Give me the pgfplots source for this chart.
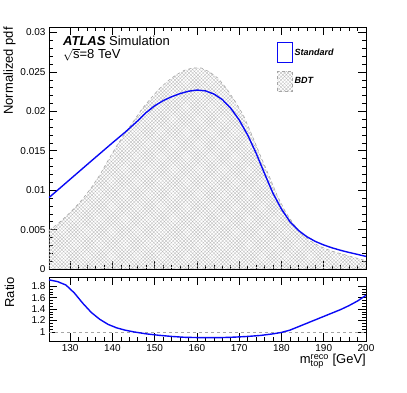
\documentclass[border=0pt]{standalone}
\usepackage{fontspec}
\setmainfont{Liberation Sans}
\usepackage{pgfplots}
\pgfplotsset{compat=1.18}
\usetikzlibrary{patterns.meta}

\definecolor{stdblue}{RGB}{10,10,245}

\pgfplotstableread{
x y
125 0.00906
130 0.01138
135 0.01370
140 0.01600
143 0.01735
146 0.01880
148 0.01985
150 0.02070
152 0.02135
154 0.02185
156 0.02225
158 0.02255
160 0.02270
162 0.02260
164 0.02220
166 0.02150
168 0.02040
170 0.01890
172 0.01700
174 0.01470
176 0.01210
178 0.00960
180 0.00760
182 0.00600
184 0.00490
186 0.00410
188 0.00350
190 0.00305
192 0.00268
194 0.00237
196 0.00210
198 0.00185
200 0.00160
}\standard

\pgfplotstableread{
x y
125 0.00490
127 0.00570
129 0.00665
131 0.00770
133 0.00890
135 0.01030
137 0.01190
139 0.01380
141 0.01560
143 0.01720
145 0.01875
147 0.02030
149 0.02160
151 0.02280
153 0.02380
155 0.02460
157 0.02520
159 0.02550
161 0.02550
163 0.02500
165 0.02420
167 0.02290
169 0.02130
171 0.01950
173 0.01700
175 0.01440
177 0.01190
179 0.00930
181 0.00720
183 0.00560
185 0.00440
187 0.00350
189 0.00290
191 0.00245
193 0.00210
195 0.00180
197 0.00150
199 0.00120
200 0.00105
}\bdt

\pgfplotstableread{
x y
125 1.91
127 1.88
129 1.82
131 1.68
133 1.50
135 1.34
137 1.22
139 1.13
141 1.07
143 1.03
145 1.00
148 0.965
151 0.94
154 0.92
157 0.905
160 0.90
163 0.898
166 0.900
169 0.908
172 0.92
175 0.937
178 0.965
180 0.99
182 1.03
184 1.09
186 1.15
188 1.21
190 1.27
192 1.33
194 1.39
196 1.46
198 1.54
200 1.64
}\ratio

\pgfplotsset{
  rootstyle/.style={
    scale only axis, width=317pt,
    xmin=125, xmax=200,
    axis line style={line width=0.7pt},
    tick style={black, line width=0.6pt},
    tick align=inside,
    major tick length=8pt, minor tick length=4pt,
    xtick={130,140,...,200}, minor x tick num=4,
    scaled ticks=false,
    ticklabel style={font=\fontsize{10}{12}\selectfont},
    /pgf/number format/assume math mode=true,
    label style={font=\fontsize{13}{15}\selectfont},
    ylabel style={at={(rel axis cs:-0.1246,1)}, anchor=east, rotate=0, inner sep=0pt},
  }
}

\begin{document}
\begin{tikzpicture}
\useasboundingbox (0pt,0pt) rectangle (407pt,393pt);

\begin{axis}[rootstyle,
  anchor=south west, at={(49pt,124pt)}, height=242pt,
  ymin=0, ymax=0.0307,
  ytick={0,0.005,...,0.03}, minor y tick num=4,
  yticklabels={0,0.005,0.01,0.015,0.02,0.025,0.03},
  xticklabels={},
  ylabel={Normalized pdf},
  legend style={draw=none, fill=none, at={(rel axis cs:0.719,0.938)}, anchor=north west,
    font=\fontsize{9}{11}\selectfont\bfseries\itshape,
    row sep=7.5pt, inner sep=0pt,
    nodes={inner sep=1.5pt, anchor=west}},
  legend cell align=left,
]
\addplot[draw=gray!70, dashed, line width=0.6pt,
  pattern={Hatch[angle=45, distance=2.5pt, line width=0.3pt]}, pattern color=gray!55,
  forget plot] table[x=x,y=y] {\bdt} \closedcycle;
\addplot[stdblue, line width=1.4pt, forget plot] table[x=x,y=y] {\standard};

\addlegendimage{legend image code/.code={
  \draw[stdblue, line width=1.1pt] (0pt,-10pt) rectangle (15pt,10pt);}}
\addlegendentry{Standard}
\addlegendimage{legend image code/.code={
  \draw[gray!70, dashed, line width=0.5pt,
    pattern={Hatch[angle=45, distance=2.5pt, line width=0.3pt]}, pattern color=gray!55]
    (0pt,-10pt) rectangle (15pt,10pt);}}
\addlegendentry{BDT}

\node[anchor=base west, font=\fontsize{13}{15}\selectfont, inner sep=0pt]
  at (rel axis cs:0.044,0.922) {\textbf{\textit{ATLAS}} Simulation};
\node[anchor=base west, font=\fontsize{13}{15}\selectfont, inner sep=0pt]
  at (rel axis cs:0.044,0.868) {$\sqrt{\mathrm{s}}$=8 TeV};
\end{axis}

\begin{axis}[rootstyle,
  anchor=south west, at={(49pt,52pt)}, height=64pt,
  ymin=0.84, ymax=1.96,
  ytick={1,1.2,...,1.8}, minor y tick num=3,
  yticklabels={1,1.2,1.4,1.6,1.8},
  ylabel={Ratio},
  xlabel={m$^{\mathrm{reco}}_{\mathrm{top}}$ [GeV]},
  xlabel style={at={(rel axis cs:1,0)}, anchor=north east, yshift=-13pt, inner sep=0pt},
]
\addplot[gray!70, dashed, line width=0.6pt] coordinates {(125,1) (200,1)};
\addplot[stdblue, line width=1.4pt] table[x=x,y=y] {\ratio};
\end{axis}
\end{tikzpicture}
\end{document}
